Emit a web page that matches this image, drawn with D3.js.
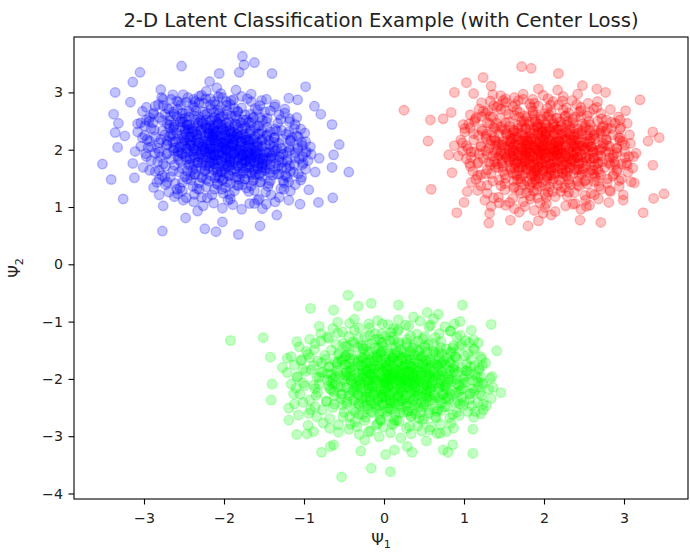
<!DOCTYPE html>
<html>
<head>
<meta charset="utf-8">
<script src="https://cdn.jsdelivr.net/npm/d3@7"></script>
<style>
  body { margin: 0; background: #fff; }
  svg { display: block; font-family: "DejaVu Sans", sans-serif; }
</style>
</head>
<body>
<div id="chart"></div>
<script>
const chartTitle = "2-D Latent Classification Example (with Center Loss)";
const xTicks = [-3, -2, -1, 0, 1, 2, 3];
const yTicks = [-4, -3, -2, -1, 0, 1, 2, 3];

// class 0 (blue) - outer points, dense core estimated
const bluePoints = [
[-1.77,3.63],[-1.75,3.48],[-1.62,3.52],[-2.53,3.46],[-3.05,3.35],[-3.14,3.18],[-3.36,3.00],[-2.06,3.33],[-1.81,3.35],[-1.40,3.33],[-2.18,3.19],[-0.98,3.10],[-2.79,3.05],[-3.17,2.83],[-3.38,2.62],[-3.32,2.46],[-3.36,2.30],[-3.24,2.24],[-3.33,2.04],[-3.52,1.75],[-3.41,1.48],[-3.26,1.14],[-3.12,1.51],[-3.14,1.76],[-2.81,1.21],[-2.76,1.02],[-2.77,0.58],[-2.48,0.81],[-2.24,0.62],[-2.10,0.57],[-1.82,0.52],[-2.02,0.74],[-1.55,0.67],[-1.34,0.86],[-1.62,1.06],[-1.19,1.12],[-1.05,1.05],[-0.82,1.08],[-0.64,1.16],[-0.94,1.30],[-0.44,1.61],[-0.65,1.69],[-0.86,1.61],[-0.81,1.85],[-0.63,1.91],[-0.56,2.09],[-0.92,2.05],[-0.65,2.44],[-0.79,2.62],[-0.87,2.76],[-1.08,2.87],[-1.19,2.90],
[-1.08,2.02],[-1.15,2.21],[-1.02,1.88],[-1.21,1.96],[-1.12,2.37],[-0.99,2.29],
[-1.18,2.49],[-1.31,2.61],[-1.24,2.71],[-1.42,2.68],[-1.36,2.79],[-1.55,2.77],[-1.47,2.88],[-1.66,2.84],[-1.29,2.53],[-1.09,2.56],
[-1.78,2.93],[-1.91,2.86],[-2.04,2.98],[-2.17,2.89],[-2.28,2.95],[-1.85,3.04],[-2.09,3.08],[-2.36,2.84],[-1.97,2.77],[-2.22,3.02],
[-2.45,2.91],[-2.57,2.83],[-2.66,2.88],[-2.71,2.72],[-2.82,2.79],[-2.88,2.64],[-2.93,2.56],[-2.51,2.96],[-2.78,2.91],[-2.99,2.41],
[-2.96,2.18],[-3.04,2.06],[-2.98,1.93],[-3.08,2.31],[-2.91,1.81],[-3.01,1.69],[-2.94,2.49],[-3.11,1.97],
[-2.86,1.62],[-2.81,1.48],[-2.73,1.39],[-2.69,1.26],[-2.59,1.31],[-2.62,1.18],[-2.77,1.55],[-2.88,1.34],[-2.51,1.12],
[-2.38,1.09],[-2.26,1.02],[-2.13,1.07],[-2.02,0.98],[-1.89,1.04],[-1.78,0.96],[-2.21,1.16],[-1.95,1.12],[-2.33,0.93],[-1.68,1.06],
[-1.56,1.14],[-1.47,1.05],[-1.41,1.21],[-1.31,1.17],[-1.25,1.31],[-1.17,1.28],[-1.36,1.09],[-1.52,0.97],[-1.11,1.39],[-1.04,1.47],
[-1.07,1.58],[-0.98,1.66],[-1.12,1.74],[-0.95,1.81],[-1.03,1.52],[-1.19,1.44],[-0.91,1.92],
[-2.31,2.93],[-1.66,2.97],[-2.02,2.91],[-2.64,2.96],
[-2.12,2.84],[-1.88,2.87],[-2.47,2.83],[-1.53,2.86],[-2.76,2.88],[-2.25,2.81],[-1.71,2.89],
[-2.04,2.74],[-2.39,2.77],[-1.61,2.72],[-2.86,2.76],[-1.92,2.79],[-2.58,2.71],[-1.37,2.75],[-2.17,2.78],[-1.78,2.73],[-2.97,2.74],
[-2.21,2.63],[-1.83,2.67],[-2.52,2.64],[-1.49,2.66],[-2.08,2.69],[-2.74,2.62],[-1.96,2.61],[-2.35,2.68],[-1.24,2.64],[-2.63,2.66],[-1.67,2.62],[-2.13,2.65],[-3.02,2.67],[-1.58,2.69],
[-2.06,2.54],[-2.44,2.57],[-1.72,2.52],[-2.81,2.56],[-1.91,2.59],[-2.29,2.51],[-1.46,2.55],[-2.59,2.58],[-2.15,2.53],[-1.63,2.57],[-2.97,2.52],[-1.84,2.55],[-2.37,2.59],[-1.18,2.54],[-2.68,2.51],[-2.01,2.58],[-1.55,2.56],[-2.22,2.52],[-2.49,2.55],
[-2.11,2.43],[-1.79,2.47],[-2.46,2.44],[-1.58,2.41],[-2.27,2.48],[-2.71,2.45],[-1.94,2.42],[-1.33,2.46],[-2.55,2.49],[-2.03,2.44],[-1.69,2.48],[-2.38,2.41],[-2.89,2.47],[-1.86,2.45],[-2.17,2.42],[-1.47,2.49],[-2.62,2.43],[-2.08,2.46],[-1.11,2.44],[-2.32,2.47],[-1.74,2.42],[-2.51,2.48],[-3.08,2.45],
[-2.14,2.34],[-1.82,2.37],[-2.49,2.32],[-1.61,2.38],[-2.29,2.35],[-2.77,2.33],[-1.97,2.39],[-1.42,2.31],[-2.41,2.36],[-2.06,2.33],[-1.73,2.38],[-2.63,2.35],[-1.28,2.34],[-2.22,2.37],[-1.89,2.31],[-2.55,2.39],[-2.01,2.36],[-1.53,2.33],[-2.36,2.32],[-2.91,2.37],[-1.67,2.35],[-2.18,2.38],[-1.04,2.36],[-2.45,2.34],[-1.93,2.33],[-2.68,2.38],[-2.11,2.31],
[-2.09,2.24],[-1.76,2.27],[-2.43,2.22],[-1.55,2.28],[-2.24,2.25],[-2.68,2.23],[-1.91,2.29],[-1.37,2.21],[-2.52,2.26],[-2.02,2.23],[-1.68,2.28],[-2.33,2.25],[-2.86,2.22],[-1.84,2.27],[-2.15,2.21],[-1.46,2.26],[-2.59,2.29],[-2.05,2.24],[-1.22,2.27],[-2.39,2.22],[-1.79,2.25],[-2.19,2.28],[-2.74,2.26],[-1.61,2.23],[-2.28,2.29],[-1.96,2.21],[-2.47,2.27],[-1.09,2.24],[-2.12,2.26],[-2.99,2.25],[-1.87,2.22],
[-2.07,2.14],[-1.73,2.17],[-2.41,2.12],[-1.52,2.18],[-2.26,2.15],[-2.64,2.13],[-1.93,2.19],[-1.31,2.11],[-2.49,2.16],[-2.01,2.13],[-1.66,2.18],[-2.35,2.15],[-2.81,2.12],[-1.85,2.17],[-2.17,2.11],[-1.44,2.16],[-2.57,2.19],[-2.04,2.14],[-1.17,2.17],[-2.31,2.12],[-1.78,2.15],[-2.21,2.18],[-2.71,2.16],[-1.59,2.13],[-2.13,2.19],[-1.97,2.11],[-2.44,2.17],[-0.98,2.14],[-2.09,2.16],[-2.93,2.15],[-1.88,2.12],[-2.53,2.14],[-1.69,2.16],
[-2.03,2.04],[-1.71,2.07],[-2.38,2.02],[-1.95,2.09],[-2.61,2.03],[-1.52,2.06],[-2.14,2.01],[-1.88,2.08],[-2.27,2.05],[-1.34,2.02],[-2.49,2.07],[-1.62,2.04],[-2.08,2.09],[-2.83,2.03],[-1.79,2.06],[-2.19,2.01],[-1.43,2.08],[-2.55,2.05],[-1.98,2.02],[-2.33,2.07],[-1.19,2.04],[-2.72,2.09],[-1.66,2.03],[-2.11,2.06],[-1.85,2.01],[-2.42,2.08],[-1.57,2.05],[-2.24,2.02],[-1.02,2.07],[-2.95,2.04],[-1.91,2.09],[-2.17,2.03],[-1.74,2.06],[-2.46,2.01],
[-1.94,1.94],[-1.62,1.97],[-2.29,1.92],[-1.81,1.98],[-2.52,1.93],[-1.43,1.96],[-2.07,1.91],[-1.77,1.99],[-2.18,1.95],[-1.26,1.92],[-2.39,1.97],[-1.55,1.94],[-1.99,1.99],[-2.71,1.93],[-1.69,1.96],[-2.11,1.91],[-1.36,1.98],[-2.46,1.95],[-1.88,1.92],[-2.24,1.97],[-1.11,1.94],[-2.63,1.99],[-1.58,1.93],[-2.02,1.96],[-1.75,1.91],[-2.34,1.98],[-1.47,1.95],[-2.15,1.92],[-0.97,1.97],[-2.86,1.94],[-1.84,1.99],[-2.57,1.96],[-1.65,1.91],
[-1.92,1.84],[-1.59,1.87],[-2.26,1.82],[-1.78,1.88],[-2.47,1.83],[-1.38,1.86],[-2.04,1.81],[-1.71,1.89],[-2.15,1.85],[-1.21,1.82],[-2.36,1.87],[-1.51,1.84],[-1.96,1.89],[-2.66,1.83],[-1.64,1.86],[-2.09,1.81],[-1.31,1.88],[-2.42,1.85],[-1.85,1.82],[-2.21,1.87],[-1.06,1.84],[-2.58,1.89],[-1.55,1.83],[-1.99,1.86],[-1.73,1.81],[-2.31,1.88],[-1.44,1.85],[-2.12,1.82],[-2.79,1.87],[-1.81,1.86],[-1.67,1.83],
[-1.89,1.74],[-1.56,1.77],[-2.23,1.72],[-1.75,1.78],[-2.44,1.73],[-1.35,1.76],[-2.01,1.71],[-1.68,1.79],[-2.12,1.75],[-1.18,1.72],[-2.33,1.77],[-1.48,1.74],[-1.93,1.79],[-2.62,1.73],[-1.61,1.76],[-2.06,1.71],[-1.27,1.78],[-2.38,1.75],[-1.82,1.72],[-2.18,1.77],[-1.02,1.74],[-2.54,1.79],[-1.52,1.73],[-1.97,1.76],[-1.71,1.71],[-2.27,1.78],[-2.76,1.75],
[-1.91,1.64],[-1.58,1.67],[-2.24,1.62],[-1.77,1.68],[-2.46,1.63],[-1.36,1.66],[-2.03,1.61],[-1.69,1.69],[-2.13,1.65],[-1.17,1.62],[-2.35,1.67],[-1.49,1.64],[-1.95,1.69],[-2.64,1.63],[-1.62,1.66],[-2.08,1.61],[-1.28,1.68],[-2.39,1.65],[-1.84,1.62],[-2.19,1.67],[-2.81,1.64],[-1.53,1.69],[-1.99,1.66],
[-1.93,1.54],[-1.61,1.57],[-2.27,1.52],[-1.79,1.58],[-2.49,1.53],[-1.39,1.56],[-2.06,1.51],[-1.72,1.59],[-2.16,1.55],[-1.21,1.52],[-2.37,1.57],[-1.52,1.54],[-1.98,1.59],[-2.67,1.53],[-1.65,1.56],[-2.11,1.51],[-1.31,1.58],[-2.42,1.55],[-1.86,1.52],
[-1.96,1.44],[-1.63,1.47],[-2.31,1.42],[-1.81,1.48],[-2.52,1.43],[-1.42,1.46],[-2.09,1.41],[-1.74,1.49],[-2.19,1.45],[-1.25,1.42],[-2.41,1.47],[-1.55,1.44],[-2.01,1.49],[-2.71,1.43],
[-1.98,1.34],[-1.66,1.37],[-2.34,1.32],[-1.84,1.38],[-2.55,1.33],[-1.45,1.36],[-2.12,1.31],[-1.77,1.39],[-2.22,1.35],[-1.29,1.32],
[-2.01,1.24],[-1.69,1.27],[-2.37,1.22],[-1.87,1.28],[-2.58,1.23],[-1.48,1.26],[-2.15,1.21],
[-1.92,1.14],[-2.28,1.17],[-1.58,1.12],[-2.47,1.16],
[-3.02,2.21],[-2.97,1.88],[-3.04,2.47],
[-2.91,2.05],[-2.88,2.62],[-2.93,1.64],[-2.87,2.34],
[-2.79,2.18],[-2.83,1.79],[-2.77,2.51],[-2.81,1.96],[-2.76,2.77],[-2.84,1.43],
[-2.71,2.09],[-2.68,2.43],[-2.73,1.71],[-2.66,2.27],[-2.72,1.92],[-2.69,2.71],[-2.74,1.52],[-2.67,2.58],
[-2.61,2.14],[-2.57,1.83],[-2.63,2.39],[-2.58,1.97],[-2.62,2.62],[-2.56,1.61],[-2.64,2.25],[-2.59,2.85],[-2.61,1.41],[-2.55,2.48],[-2.63,2.03],
[-2.51,2.21],[-2.48,1.88],[-2.53,2.54],[-2.47,2.02],[-2.52,1.67],[-2.49,2.36],[-2.54,2.78],[-2.46,1.49],[-2.51,2.11],[-2.48,2.63],[-2.53,1.94],[-2.46,2.43],[-2.52,1.28],
[-2.41,2.16],[-2.38,1.91],[-2.43,2.44],[-2.37,2.01],[-2.42,1.74],[-2.39,2.31],[-2.44,2.67],[-2.36,1.57],[-2.41,2.24],[-2.38,2.88],[-2.43,1.83],[-2.36,2.52],[-2.42,2.07],[-2.39,1.36],[-2.44,2.37],[-2.37,2.74],
[-2.31,2.12],[-2.28,1.86],[-2.33,2.41],[-2.27,1.99],[-2.32,2.58],[-2.29,1.69],[-2.34,2.27],[-2.26,2.05],[-2.31,2.82],[-2.28,1.51],[-2.33,2.19],[-2.27,2.46],[-2.32,1.78],[-2.29,2.33],[-2.34,1.94],[-2.26,2.66],[-2.31,1.31],[-2.28,2.09],
[-2.21,2.08],[-2.18,2.34],[-2.23,1.87],[-2.17,2.51],[-2.22,1.96],[-2.19,2.22],[-2.24,1.64],[-2.16,2.71],[-2.21,2.14],[-2.18,1.79],[-2.23,2.43],[-2.17,2.02],[-2.22,1.48],[-2.19,2.29],[-2.24,2.61],[-2.16,1.91],[-2.21,2.38],[-2.18,1.71],[-2.23,2.89],[-2.17,2.17],
[-2.11,2.11],[-2.08,1.83],[-2.13,2.37],[-2.07,1.97],[-2.12,2.56],[-2.09,1.68],[-2.14,2.24],[-2.06,2.04],[-2.11,2.79],[-2.08,1.55],[-2.13,2.17],[-2.07,2.45],[-2.12,1.89],[-2.09,2.31],[-2.14,1.76],[-2.06,2.63],[-2.11,2.01],[-2.08,1.39],[-2.13,2.28],[-2.07,2.92],[-2.12,1.93],[-2.09,2.49],
[-2.01,2.06],[-1.98,2.31],[-2.03,1.79],[-1.97,2.47],[-2.02,1.94],[-1.99,2.19],[-2.04,1.62],[-1.96,2.68],[-2.01,2.12],[-1.98,1.86],[-2.03,2.39],[-1.97,1.99],[-2.02,1.47],[-1.99,2.26],[-2.04,2.57],[-1.96,1.72],[-2.01,2.34],[-1.98,2.01],[-2.03,1.31],[-1.97,2.84],[-2.02,1.89],[-1.99,2.15],
[-1.91,1.98],[-1.88,2.24],[-1.93,1.73],[-1.87,2.41],[-1.92,1.87],[-1.89,2.12],[-1.94,1.56],[-1.86,2.59],[-1.91,2.05],[-1.88,1.79],[-1.93,2.31],[-1.87,1.92],[-1.92,1.41],[-1.89,2.18],[-1.94,2.49],[-1.86,1.66],[-1.91,2.27],[-1.88,1.95],[-1.93,1.22],[-1.87,2.72],[-1.92,1.82],[-1.89,2.08],
[-1.81,1.94],[-1.78,2.19],[-1.83,1.71],[-1.77,2.36],[-1.82,1.83],[-1.79,2.07],[-1.84,1.53],[-1.76,2.52],[-1.81,2.01],[-1.78,1.76],[-1.83,2.27],[-1.77,1.89],[-1.82,1.37],[-1.79,2.13],[-1.84,2.44],[-1.76,1.62],[-1.81,2.23],[-1.78,1.91],[-1.83,2.66],[-1.77,1.81],
[-1.71,1.91],[-1.68,2.14],[-1.73,1.68],[-1.67,2.31],[-1.72,1.81],[-1.69,2.03],[-1.74,1.49],[-1.66,2.47],[-1.71,1.97],[-1.68,1.74],[-1.73,2.22],[-1.67,1.86],[-1.72,1.33],[-1.69,2.09],[-1.74,2.61],[-1.66,1.59],[-1.71,2.18],[-1.68,1.93],
[-1.61,1.88],[-1.58,2.11],[-1.63,1.64],[-1.57,2.28],[-1.62,1.78],[-1.59,1.99],[-1.64,1.46],[-1.56,2.42],[-1.61,1.94],[-1.58,1.71],[-1.63,2.19],[-1.57,1.83],[-1.62,1.29],[-1.59,2.06],[-1.64,2.55],[-1.56,1.57],
[-1.51,1.86],[-1.48,2.08],[-1.53,1.61],[-1.47,2.24],[-1.52,1.76],[-1.49,1.97],[-1.54,1.43],[-1.46,2.39],[-1.51,1.91],[-1.48,1.68],[-1.53,2.16],[-1.47,1.81],[-1.52,2.51],
[-1.41,1.84],[-1.38,2.05],[-1.43,1.59],[-1.37,2.21],[-1.42,1.74],[-1.39,1.95],[-1.44,1.41],[-1.36,2.36],[-1.41,1.89],[-1.38,2.13],[-1.43,1.66],
[-1.31,1.82],[-1.28,2.02],[-1.33,1.57],[-1.27,2.18],[-1.32,1.71],[-1.29,1.93],[-1.34,2.33],[-1.26,1.46],
[-1.21,1.79],[-1.18,1.99],[-1.23,1.55],[-1.17,2.15],[-1.22,1.68],[-1.19,2.31],
[-1.11,1.86],[-1.08,2.04],[-1.13,1.61],[-1.07,2.22],
[-1.01,1.77],[-0.98,1.95],[-1.03,2.13]
];

// class 1 (red)
const redPoints = [
[0.25,2.69],[0.58,2.52],[0.55,2.15],[0.59,1.31],[0.74,2.54],[0.84,2.65],[0.81,1.91],[0.91,0.90],[1.00,1.08],[0.88,3.00],[1.03,3.17],[1.24,3.26],[1.34,3.11],[1.72,3.45],[1.84,3.42],[2.18,3.33],[2.48,3.12],[2.66,3.06],[2.77,3.00],[3.20,2.87],[3.02,2.68],[2.95,2.52],[3.36,2.31],[3.44,2.21],[3.30,2.15],[3.15,1.94],[3.36,1.73],[3.13,1.42],[3.50,1.23],[3.37,1.15],[3.24,0.90],[2.99,1.12],[2.81,1.08],[2.71,0.73],[2.45,0.77],[2.53,1.01],[1.80,0.67],[1.93,0.76],[1.99,0.89],[1.58,0.77],[1.31,0.72],[1.32,0.89],[1.04,1.27],[0.85,1.60],[1.12,2.98],
[2.91,2.02],[3.01,1.86],[2.95,2.21],[3.08,2.11],[2.89,1.74],[3.05,1.61],
[2.84,2.37],[2.78,2.52],[2.71,2.63],[2.62,2.71],[2.89,2.46],[2.55,2.81],[2.46,2.74],[2.67,2.84],[2.96,2.39],[2.74,2.41],
[2.35,2.86],[2.24,2.93],[2.11,2.84],[1.99,2.95],[1.86,2.88],[1.74,2.97],[2.17,3.04],[1.93,3.06],[2.42,2.97],[1.63,2.91],
[1.52,2.82],[1.41,2.74],[1.33,2.85],[1.27,2.64],[1.19,2.71],[1.14,2.53],[1.46,2.94],[1.22,2.82],[1.08,2.61],[1.36,2.96],
[1.01,2.31],[0.96,2.17],[1.05,2.02],[0.93,1.89],[1.07,1.76],[0.99,2.44],[0.88,2.07],[1.11,1.62],
[1.15,1.48],[1.21,1.37],[1.29,1.24],[1.37,1.16],[1.09,1.43],[1.26,1.12],[1.44,1.07],[1.17,1.29],[1.34,1.01],
[1.52,1.03],[1.63,0.97],[1.76,1.01],[1.88,0.94],[2.01,0.99],[2.14,0.92],[2.27,1.02],[1.95,1.07],[2.09,0.86],[1.69,0.91],
[2.39,1.06],[2.52,1.12],[2.63,1.21],[2.71,1.31],[2.79,1.42],[2.86,1.54],[2.57,1.03],[2.46,0.96],[2.94,1.36],[2.68,1.14],
[2.97,1.49],[3.04,1.73],[2.91,1.63],[3.12,1.88],[2.83,1.27],[2.99,1.21],[3.09,1.44],
[1.74,2.88],[2.23,2.85],[1.49,2.86],[2.05,2.89],
[1.93,2.76],[2.41,2.79],[1.61,2.75],[2.18,2.78],[1.37,2.77],[2.66,2.74],[1.82,2.80],
[2.09,2.66],[1.52,2.69],[2.57,2.65],[1.86,2.68],[2.31,2.64],[1.24,2.67],[2.83,2.70],[1.70,2.65],[2.01,2.63],[2.46,2.68],
[1.78,2.56],[2.27,2.59],[1.45,2.55],[2.04,2.58],[2.72,2.54],[1.63,2.60],[2.39,2.57],[1.15,2.56],[1.96,2.53],[2.54,2.59],[1.33,2.58],[2.16,2.55],[2.93,2.57],[1.88,2.60],
[2.12,2.46],[1.57,2.49],[2.48,2.45],[1.81,2.48],[2.29,2.44],[1.29,2.47],[2.67,2.50],[1.94,2.45],[1.68,2.43],[2.21,2.49],[1.41,2.46],[2.84,2.48],[2.03,2.44],[1.75,2.50],[2.36,2.47],[1.06,2.45],[2.58,2.43],[1.89,2.49],[3.04,2.46],
[1.83,2.36],[2.24,2.39],[1.51,2.35],[2.06,2.38],[2.63,2.34],[1.72,2.40],[2.42,2.37],[1.22,2.36],[1.98,2.33],[2.51,2.39],[1.39,2.38],[2.15,2.35],[2.79,2.37],[1.62,2.34],[1.91,2.40],[2.33,2.36],[1.08,2.38],[2.71,2.33],[1.77,2.37],[2.19,2.35],[1.46,2.40],[2.95,2.36],[2.01,2.38],
[2.07,2.26],[1.66,2.29],[2.38,2.25],[1.87,2.28],[2.55,2.24],[1.35,2.30],[2.21,2.27],[1.74,2.25],[2.01,2.23],[2.69,2.29],[1.53,2.26],[2.31,2.28],[1.93,2.30],[1.18,2.25],[2.47,2.27],[1.81,2.23],[2.12,2.29],[2.86,2.26],[1.44,2.28],[2.26,2.24],[1.61,2.30],[2.02,2.27],[2.62,2.25],[1.96,2.29],[1.27,2.23],[2.41,2.28],[3.07,2.26],
[1.89,2.16],[2.28,2.19],[1.58,2.15],[2.11,2.18],[2.51,2.14],[1.76,2.20],[2.36,2.17],[1.39,2.16],[2.03,2.13],[2.64,2.19],[1.67,2.18],[2.19,2.15],[1.95,2.20],[1.12,2.17],[2.45,2.13],[1.84,2.19],[2.07,2.16],[2.78,2.18],[1.49,2.14],[2.24,2.20],[1.71,2.16],[1.99,2.18],[2.57,2.15],[1.28,2.19],[2.33,2.17],[1.91,2.13],[2.95,2.16],[1.62,2.20],[2.15,2.14],[2.42,2.18],[1.80,2.15],
[2.04,2.06],[1.63,2.09],[2.35,2.05],[1.85,2.08],[2.53,2.04],[1.42,2.10],[2.17,2.07],[1.72,2.05],[1.97,2.03],[2.66,2.09],[1.55,2.06],[2.27,2.08],[1.91,2.10],[1.21,2.05],[2.44,2.07],[1.79,2.03],[2.09,2.09],[2.82,2.06],[1.48,2.08],[2.22,2.04],[1.67,2.10],[2.01,2.07],[2.59,2.05],[1.33,2.09],[2.38,2.06],[1.88,2.04],[3.01,2.08],[1.59,2.03],[2.13,2.10],[2.48,2.06],[1.76,2.08],[1.03,2.07],[2.73,2.04],
[1.95,1.96],[2.31,1.99],[1.61,1.95],[2.14,1.98],[1.82,1.94],[2.49,2.00],[1.46,1.97],[2.06,1.95],[1.73,1.99],[2.62,1.96],[1.27,1.98],[2.23,1.94],[1.89,2.00],[2.41,1.96],[1.56,1.99],[2.01,1.93],[2.77,1.97],[1.68,1.95],[2.18,1.99],[1.13,1.96],[2.55,1.98],[1.84,1.94],[2.09,2.00],[1.39,1.95],[2.36,1.97],[1.99,1.99],[2.91,1.95],[1.64,1.98],[2.27,1.94],[1.78,1.96],[2.69,1.99],[1.51,1.93],[2.12,1.97],[0.98,1.98],
[2.02,1.86],[1.67,1.89],[2.38,1.85],[1.86,1.88],[2.57,1.84],[1.44,1.90],[2.19,1.87],[1.75,1.85],[1.96,1.83],[2.71,1.89],[1.53,1.86],[2.29,1.88],[1.92,1.90],[1.24,1.85],[2.46,1.87],[1.81,1.83],[2.11,1.89],[2.86,1.86],[1.59,1.88],[2.25,1.84],[1.70,1.90],[2.05,1.87],[2.63,1.85],[1.36,1.89],[2.41,1.86],[1.90,1.84],[3.06,1.88],[1.62,1.83],[2.15,1.90],[2.52,1.86],[1.79,1.88],[1.09,1.87],[2.34,1.83],
[1.98,1.76],[2.34,1.79],[1.64,1.75],[2.16,1.78],[1.83,1.74],[2.53,1.80],[1.47,1.77],[2.08,1.75],[1.76,1.79],[2.67,1.76],[1.31,1.78],[2.25,1.74],[1.93,1.80],[2.44,1.76],[1.57,1.79],[2.03,1.73],[2.81,1.77],[1.71,1.75],[2.21,1.79],[1.17,1.76],[2.59,1.78],[1.87,1.74],[2.12,1.80],[1.41,1.75],[2.39,1.77],[2.01,1.79],[2.97,1.75],[1.66,1.78],[2.29,1.74],[1.81,1.76],[2.73,1.79],
[2.06,1.66],[1.69,1.69],[2.41,1.65],[1.88,1.68],[2.61,1.64],[1.49,1.70],[2.22,1.67],[1.78,1.65],[1.99,1.63],[2.76,1.69],[1.58,1.66],[2.32,1.68],[1.94,1.70],[1.29,1.65],[2.49,1.67],[1.84,1.63],[2.14,1.69],[2.92,1.66],[1.63,1.68],[2.27,1.64],[1.73,1.70],[2.09,1.67],[2.67,1.65],[1.39,1.69],[2.44,1.66],[1.91,1.64],[3.11,1.68],
[1.96,1.56],[2.37,1.59],[1.66,1.55],[2.13,1.58],[1.85,1.54],[2.56,1.60],[1.51,1.57],[2.09,1.55],[1.77,1.59],[2.71,1.56],[1.34,1.58],[2.28,1.54],[1.92,1.60],[2.47,1.56],[1.61,1.59],[2.04,1.53],[2.87,1.57],[1.73,1.55],[2.23,1.59],[1.21,1.56],[2.62,1.58],[1.89,1.54],[2.17,1.60],
[2.03,1.46],[1.71,1.49],[2.42,1.45],[1.89,1.48],[2.63,1.44],[1.52,1.50],[2.19,1.47],[1.79,1.45],[1.98,1.43],[2.79,1.49],[1.62,1.46],[2.31,1.48],[1.93,1.50],[1.36,1.45],[2.52,1.47],[1.85,1.43],[2.12,1.49],[2.94,1.46],[1.67,1.48],
[1.94,1.36],[2.33,1.39],[1.63,1.35],[2.17,1.38],[1.82,1.34],[2.54,1.40],[1.46,1.37],[2.07,1.35],[1.75,1.39],[2.69,1.36],[1.29,1.38],[2.26,1.34],[1.91,1.40],[2.44,1.36],
[2.05,1.26],[1.69,1.29],[2.38,1.25],[1.87,1.28],[2.59,1.24],[1.51,1.30],[2.21,1.27],[1.78,1.25],[2.01,1.23],[2.82,1.29],
[1.92,1.16],[2.29,1.19],[1.61,1.15],[2.14,1.18],[1.83,1.14],[2.51,1.20],[1.43,1.17],
[2.03,1.06],[1.74,1.09],[2.36,1.05],[1.57,1.08],
[0.98,2.12],[1.03,1.84],[1.01,2.37],
[1.09,1.96],[1.12,2.28],[1.08,1.71],[1.13,2.49],
[1.21,2.07],[1.18,1.78],[1.23,2.33],[1.19,1.93],[1.22,2.58],[1.17,1.55],
[1.31,2.02],[1.28,2.27],[1.33,1.74],[1.29,1.91],[1.32,2.46],[1.27,1.58],[1.34,2.16],[1.30,2.68],
[1.41,1.98],[1.38,2.21],[1.43,1.69],[1.37,2.39],[1.42,1.86],[1.39,2.07],[1.44,1.47],[1.36,2.57],[1.41,2.14],[1.38,1.79],[1.43,2.77],
[1.51,2.04],[1.48,1.81],[1.53,2.29],[1.47,1.93],[1.52,2.47],[1.49,1.62],[1.54,2.16],[1.46,2.71],[1.51,1.41],[1.48,2.36],[1.53,1.87],[1.47,2.09],[1.52,2.89],
[1.61,1.99],[1.58,2.24],[1.63,1.77],[1.57,2.41],[1.62,1.88],[1.59,2.13],[1.64,1.58],[1.56,2.62],[1.61,2.05],[1.58,1.69],[1.63,2.33],[1.57,1.94],[1.62,1.33],[1.59,2.19],[1.64,2.79],[1.56,1.83],
[1.71,2.03],[1.68,1.79],[1.73,2.28],[1.67,1.91],[1.72,2.49],[1.69,1.63],[1.74,2.15],[1.66,2.69],[1.71,1.44],[1.68,2.37],[1.73,1.86],[1.67,2.08],[1.72,1.71],[1.69,2.57],[1.74,1.97],[1.66,2.22],[1.71,1.24],[1.68,2.86],
[1.81,1.96],[1.78,2.21],[1.83,1.72],[1.77,2.38],[1.82,1.85],[1.79,2.11],[1.84,1.56],[1.76,2.59],[1.81,2.02],[1.78,1.67],[1.83,2.29],[1.77,1.91],[1.82,1.38],[1.79,2.16],[1.84,2.74],[1.76,1.79],[1.81,2.44],[1.78,2.06],[1.83,1.19],[1.77,1.99],
[1.91,2.01],[1.88,1.77],[1.93,2.26],[1.87,1.89],[1.92,2.43],[1.89,1.64],[1.94,2.13],[1.86,2.63],[1.91,1.47],[1.88,2.34],[1.93,1.83],[1.87,2.07],[1.92,1.69],[1.89,2.52],[1.94,1.94],[1.86,2.19],[1.91,1.29],[1.88,2.81],[1.93,1.98],[1.87,1.58],[1.92,2.38],[1.89,2.04],
[2.01,1.95],[1.98,2.22],[2.03,1.71],[1.97,2.39],[2.02,1.84],[1.99,2.09],[2.04,1.54],[1.96,2.58],[2.01,2.01],[1.98,1.66],[2.03,2.31],[1.97,1.91],[2.02,1.36],[1.99,2.15],[2.04,2.72],[1.96,1.78],[2.01,2.45],[1.98,2.05],[2.03,1.17],[1.97,1.98],[2.02,2.27],[1.99,1.62],
[2.11,2.02],[2.08,1.76],[2.13,2.27],[2.07,1.88],[2.12,2.44],[2.09,1.63],[2.14,2.12],[2.06,2.61],[2.11,1.45],[2.08,2.35],[2.13,1.82],[2.07,2.06],[2.12,1.69],[2.09,2.53],[2.14,1.95],[2.06,2.18],[2.11,1.27],[2.08,2.78],[2.13,1.99],[2.07,1.56],[2.12,2.39],[2.09,1.92],
[2.21,1.94],[2.18,2.19],[2.23,1.73],[2.17,2.36],[2.22,1.86],[2.19,2.08],[2.24,1.52],[2.16,2.55],[2.21,2.01],[2.18,1.67],[2.23,2.28],[2.17,1.92],[2.22,1.34],[2.19,2.14],[2.24,2.69],[2.16,1.79],[2.21,2.42],[2.18,2.03],[2.23,1.59],[2.17,1.97],
[2.31,2.01],[2.28,1.78],[2.33,2.24],[2.27,1.89],[2.32,2.41],[2.29,1.61],[2.34,2.11],[2.26,2.58],[2.31,1.43],[2.28,2.31],[2.33,1.83],[2.27,2.06],[2.32,1.69],[2.29,2.49],[2.34,1.95],[2.26,2.17],[2.31,1.26],[2.28,2.73],
[2.41,1.97],[2.38,2.21],[2.43,1.74],[2.37,2.37],[2.42,1.87],[2.39,2.09],[2.44,1.55],[2.36,2.54],[2.41,2.03],[2.38,1.66],[2.43,2.29],[2.37,1.92],[2.42,1.38],[2.39,2.15],[2.44,2.66],[2.36,1.81],
[2.51,2.02],[2.48,1.79],[2.53,2.25],[2.47,1.91],[2.52,2.42],[2.49,1.62],[2.54,2.12],[2.46,2.57],[2.51,1.45],[2.48,2.33],[2.53,1.86],[2.47,2.07],[2.52,1.71],
[2.61,1.96],[2.58,2.19],[2.63,1.72],[2.57,2.34],[2.62,1.85],[2.59,2.06],[2.64,1.53],[2.56,2.49],[2.61,2.01],[2.58,1.64],[2.63,2.27],
[2.71,2.01],[2.68,1.78],[2.73,2.22],[2.67,1.89],[2.72,2.39],[2.69,1.61],[2.74,2.11],[2.66,1.46],
[2.81,1.95],[2.78,2.17],[2.83,1.74],[2.77,2.32],[2.82,1.86],[2.79,2.07],
[2.91,2.03],[2.88,1.79],[2.93,2.21],[2.87,1.91],
[3.01,1.97],[2.98,2.14],[3.03,1.77]
];

// class 2 (green)
const greenPoints = [
[-1.92,-1.33],[-1.51,-1.28],[-1.42,-1.62],[-1.40,-2.09],[-1.41,-2.37],[-1.19,-2.72],[-1.09,-2.97],[-0.96,-2.96],[-0.78,-3.28],[-0.67,-3.18],[-0.53,-3.71],[-0.16,-3.56],[0.08,-3.62],[-0.29,-3.26],[0.02,-3.32],[0.13,-3.24],[0.35,-3.28],[0.74,-3.24],[0.80,-3.28],[1.11,-3.30],[1.11,-2.88],[1.24,-2.54],[1.24,-2.44],[1.46,-2.24],[1.35,-1.96],[1.24,-2.09],[1.41,-1.51],[1.34,-1.05],[1.09,-1.15],[0.98,-0.71],[0.95,-1.00],[0.68,-0.87],[0.54,-0.84],[0.18,-0.71],[-0.16,-0.68],[-0.45,-0.54],[-0.32,-0.73],[-0.63,-0.80],[-0.92,-0.77],[-0.81,-1.08],[-1.09,-1.35],[-1.21,-1.64],[-1.27,-1.80],[-1.19,-2.51],[-0.94,-2.60],[-0.63,-3.15],[0.70,-2.95],[0.86,-3.15],[0.53,-3.08],[0.29,-3.18],[1.21,-1.61],[1.12,-1.32],
[1.14,-1.93],[1.23,-2.07],[1.19,-1.81],[1.31,-2.18],[1.08,-2.26],[1.27,-1.72],
[1.05,-1.56],[0.97,-1.41],[0.91,-1.27],[0.83,-1.16],[1.13,-1.49],[0.76,-1.09],[0.69,-1.21],[1.02,-1.33],[0.88,-1.04],[1.18,-1.37],
[0.58,-1.06],[0.45,-0.99],[0.31,-1.08],[0.18,-0.97],[0.05,-1.05],[-0.08,-0.98],[0.37,-0.92],[0.12,-1.12],[-0.19,-1.04],[0.62,-0.95],
[-0.31,-1.11],[-0.43,-1.03],[-0.52,-1.18],[-0.64,-1.12],[-0.71,-1.27],[-0.79,-1.21],[-0.58,-1.01],[-0.86,-1.38],[-0.93,-1.31],[-0.37,-0.96],
[-0.97,-1.52],[-1.04,-1.68],[-1.01,-1.83],[-1.09,-1.97],[-0.99,-2.12],[-1.13,-2.26],[-1.06,-1.44],[-1.16,-1.61],
[-1.01,-2.41],[-0.92,-2.54],[-0.84,-2.66],[-0.76,-2.77],[-1.07,-2.63],[-0.95,-2.81],[-0.68,-2.86],[-1.12,-2.44],[-0.88,-2.92],
[-0.57,-2.93],[-0.44,-2.88],[-0.31,-2.97],[-0.19,-2.92],[-0.06,-3.01],[0.08,-2.94],[0.21,-3.03],[0.34,-2.96],[-0.24,-3.07],[0.47,-2.91],
[0.59,-2.84],[0.71,-2.79],[0.82,-2.68],[0.91,-2.58],[0.99,-2.47],[1.07,-2.36],[0.66,-2.95],[0.87,-2.86],[1.14,-2.57],[0.78,-2.92],
[1.17,-2.41],[1.22,-2.29],[1.28,-2.47],[1.12,-2.67],[1.34,-2.34],[1.21,-2.61],[1.36,-2.15],
[0.27,-1.06],[-0.18,-1.11],[0.56,-1.09],[-0.02,-1.04],
[0.09,-1.19],[-0.37,-1.15],[0.41,-1.22],[0.83,-1.17],[-0.58,-1.20],[0.18,-1.14],[-0.11,-1.21],
[0.33,-1.25],[-0.06,-1.31],[0.64,-1.28],[-0.44,-1.26],[0.12,-1.32],[-0.69,-1.29],[0.95,-1.24],[0.49,-1.30],[-0.24,-1.27],[0.02,-1.25],
[-0.03,-1.36],[0.38,-1.41],[-0.51,-1.38],[0.71,-1.35],[0.19,-1.39],[-0.28,-1.42],[1.06,-1.37],[-0.79,-1.34],[0.55,-1.40],[0.07,-1.33],[-0.15,-1.39],[0.87,-1.42],[-0.39,-1.35],[0.28,-1.37],
[0.21,-1.49],[-0.33,-1.45],[0.62,-1.52],[-0.07,-1.47],[0.94,-1.44],[-0.66,-1.50],[0.36,-1.46],[0.04,-1.51],[-0.48,-1.43],[0.78,-1.48],[-0.19,-1.52],[1.12,-1.47],[0.15,-1.44],[-0.87,-1.49],[0.51,-1.45],[-0.26,-1.48],[0.69,-1.53],[-0.02,-1.43],[0.42,-1.50],
[0.06,-1.56],[0.47,-1.61],[-0.41,-1.58],[0.83,-1.55],[-0.14,-1.62],[0.29,-1.54],[-0.74,-1.59],[0.61,-1.57],[-0.03,-1.53],[1.01,-1.60],[-0.56,-1.55],[0.18,-1.59],[-0.27,-1.63],[0.72,-1.56],[0.37,-1.58],[-0.95,-1.57],[0.11,-1.62],[0.54,-1.53],[-0.19,-1.57],[0.89,-1.61],[-0.48,-1.60],[0.25,-1.55],[-0.09,-1.59],
[0.17,-1.69],[-0.26,-1.65],[0.58,-1.71],[-0.04,-1.67],[0.91,-1.64],[-0.61,-1.70],[0.33,-1.66],[0.02,-1.72],[-0.43,-1.64],[0.75,-1.68],[-0.17,-1.71],[1.09,-1.66],[0.12,-1.64],[-0.83,-1.69],[0.46,-1.65],[-0.31,-1.68],[0.66,-1.73],[-0.08,-1.63],[0.39,-1.70],[-1.03,-1.67],[0.24,-1.63],[0.81,-1.71],[-0.52,-1.66],[0.07,-1.69],[-0.21,-1.72],[0.53,-1.68],[1.22,-1.65],
[0.03,-1.76],[0.41,-1.81],[-0.36,-1.78],[0.77,-1.75],[-0.12,-1.82],[0.26,-1.74],[-0.68,-1.79],[0.59,-1.77],[0.09,-1.73],[0.97,-1.80],[-0.49,-1.75],[0.21,-1.79],[-0.23,-1.83],[0.67,-1.76],[0.34,-1.78],[-0.88,-1.77],[0.14,-1.82],[0.49,-1.73],[-0.16,-1.77],[0.86,-1.81],[-0.42,-1.80],[0.29,-1.75],[-0.05,-1.79],[1.13,-1.77],[-0.59,-1.74],[0.52,-1.80],[-1.12,-1.76],[0.01,-1.81],[0.71,-1.74],[-0.29,-1.76],[0.38,-1.83],
[0.19,-1.89],[-0.21,-1.85],[0.55,-1.91],[-0.01,-1.87],[0.88,-1.84],[-0.58,-1.90],[0.31,-1.86],[0.06,-1.92],[-0.39,-1.84],[0.73,-1.88],[-0.14,-1.91],[1.04,-1.86],[0.16,-1.84],[-0.79,-1.89],[0.44,-1.85],[-0.27,-1.88],[0.63,-1.93],[-0.06,-1.83],[0.36,-1.90],[-0.98,-1.87],[0.23,-1.83],[0.79,-1.91],[-0.47,-1.86],[0.11,-1.89],[-0.18,-1.92],[0.51,-1.88],[1.19,-1.85],[-0.66,-1.92],[0.27,-1.87],[-0.34,-1.90],[0.93,-1.88],[0.04,-1.85],[-1.21,-1.89],
[0.08,-1.96],[0.43,-2.01],[-0.33,-1.98],[0.74,-1.95],[-0.09,-2.02],[0.28,-1.94],[-0.64,-1.99],[0.57,-1.97],[0.13,-1.93],[0.99,-2.00],[-0.46,-1.95],[0.22,-1.99],[-0.19,-2.03],[0.65,-1.96],[0.35,-1.98],[-0.84,-1.97],[0.17,-2.02],[0.47,-1.93],[-0.13,-1.97],[0.84,-2.01],[-0.38,-2.00],[0.31,-1.95],[-0.02,-1.99],[1.16,-1.97],[-0.55,-1.94],[0.53,-2.00],[-1.08,-1.96],[0.04,-2.01],[0.69,-1.94],[-0.26,-1.96],[0.39,-2.03],[1.33,-1.99],[-0.71,-2.02],[0.11,-1.98],
[0.15,-2.09],[-0.24,-2.05],[0.53,-2.11],[-0.03,-2.07],[0.86,-2.04],[-0.61,-2.10],[0.32,-2.06],[0.05,-2.12],[-0.41,-2.04],[0.71,-2.08],[-0.16,-2.11],[1.03,-2.06],[0.19,-2.04],[-0.81,-2.09],[0.45,-2.05],[-0.29,-2.08],[0.61,-2.13],[-0.07,-2.03],[0.37,-2.10],[-1.01,-2.07],[0.25,-2.03],[0.77,-2.11],[-0.49,-2.06],[0.09,-2.09],[-0.20,-2.12],[0.49,-2.08],[1.17,-2.05],[-0.69,-2.12],[0.28,-2.07],[-0.35,-2.10],[0.91,-2.08],[0.02,-2.05],[-1.16,-2.09],
[0.05,-2.16],[0.42,-2.21],[-0.34,-2.18],[0.76,-2.15],[-0.11,-2.22],[0.27,-2.14],[-0.66,-2.19],[0.58,-2.17],[0.10,-2.13],[0.96,-2.20],[-0.47,-2.15],[0.20,-2.19],[-0.22,-2.23],[0.68,-2.16],[0.33,-2.18],[-0.86,-2.17],[0.13,-2.22],[0.50,-2.13],[-0.15,-2.17],[0.85,-2.21],[-0.40,-2.20],[0.30,-2.15],[-0.04,-2.19],[1.11,-2.17],[-0.57,-2.14],[0.54,-2.20],[-1.10,-2.16],[0.00,-2.21],[0.70,-2.14],[-0.28,-2.16],[0.39,-2.23],
[0.18,-2.29],[-0.27,-2.25],[0.56,-2.31],[-0.05,-2.27],[0.90,-2.24],[-0.62,-2.30],[0.34,-2.26],[0.01,-2.32],[-0.44,-2.24],[0.74,-2.28],[-0.18,-2.31],[1.07,-2.26],[0.11,-2.24],[-0.85,-2.29],[0.47,-2.25],[-0.32,-2.28],[0.64,-2.33],[-0.09,-2.23],[0.40,-2.30],[-1.05,-2.27],[0.23,-2.23],[0.80,-2.31],[-0.53,-2.26],[0.06,-2.29],[-0.22,-2.32],[0.52,-2.28],[1.20,-2.25],
[0.07,-2.36],[0.46,-2.41],[-0.39,-2.38],[0.81,-2.35],[-0.13,-2.42],[0.27,-2.34],[-0.72,-2.39],[0.60,-2.37],[-0.02,-2.33],[1.00,-2.40],[-0.54,-2.35],[0.19,-2.39],[-0.26,-2.43],[0.70,-2.36],[0.36,-2.38],[-0.93,-2.37],[0.12,-2.42],[0.53,-2.33],[-0.17,-2.37],[0.88,-2.41],[-0.46,-2.40],[0.24,-2.35],[-0.08,-2.39],
[0.22,-2.49],[-0.31,-2.45],[0.63,-2.52],[-0.06,-2.47],[0.95,-2.44],[-0.64,-2.50],[0.37,-2.46],[0.05,-2.51],[-0.47,-2.43],[0.79,-2.48],[-0.20,-2.52],[1.10,-2.47],[0.14,-2.44],[-0.86,-2.49],[0.50,-2.45],[-0.25,-2.48],[0.68,-2.53],[-0.01,-2.43],[0.43,-2.50],
[-0.02,-2.56],[0.39,-2.61],[-0.50,-2.58],[0.72,-2.55],[0.20,-2.59],[-0.27,-2.62],[1.05,-2.57],[-0.77,-2.54],[0.56,-2.60],[0.08,-2.53],[-0.14,-2.59],[0.86,-2.62],[-0.38,-2.55],[0.29,-2.57],
[0.34,-2.65],[-0.05,-2.71],[0.65,-2.68],[-0.43,-2.66],[0.13,-2.72],[-0.68,-2.69],[0.94,-2.64],[0.50,-2.70],[-0.23,-2.67],[0.03,-2.65],
[0.10,-2.79],[-0.36,-2.75],[0.42,-2.82],[0.84,-2.77],[-0.57,-2.80],[0.19,-2.74],[-0.10,-2.81],
[0.28,-2.86],[-0.17,-2.91],[0.57,-2.89],[-0.01,-2.84],
[-0.91,-1.84],[-0.88,-2.11],[-0.93,-1.63],
[-0.81,-1.97],[-0.78,-1.72],[-0.83,-2.24],[-0.77,-1.88],
[-0.71,-1.91],[-0.68,-2.17],[-0.73,-1.66],[-0.67,-2.03],[-0.72,-2.39],[-0.69,-1.79],
[-0.61,-1.96],[-0.58,-1.71],[-0.63,-2.22],[-0.59,-1.86],[-0.62,-2.44],[-0.57,-1.57],[-0.64,-2.08],[-0.60,-1.39],
[-0.51,-2.01],[-0.48,-1.76],[-0.53,-2.27],[-0.47,-1.89],[-0.52,-2.46],[-0.49,-1.61],[-0.54,-2.13],[-0.46,-1.43],[-0.51,-2.66],[-0.48,-1.94],[-0.53,-1.69],
[-0.41,-1.95],[-0.38,-2.21],[-0.43,-1.73],[-0.37,-2.37],[-0.42,-1.86],[-0.39,-2.09],[-0.44,-1.54],[-0.36,-2.58],[-0.41,-2.02],[-0.38,-1.67],[-0.43,-2.29],[-0.37,-1.38],[-0.42,-2.79],
[-0.31,-2.03],[-0.28,-1.78],[-0.33,-2.26],[-0.27,-1.91],[-0.32,-2.43],[-0.29,-1.62],[-0.34,-2.14],[-0.26,-1.46],[-0.31,-2.62],[-0.28,-1.97],[-0.33,-1.71],[-0.27,-2.34],[-0.32,-1.29],[-0.29,-2.08],[-0.34,-2.83],[-0.26,-1.84],
[-0.21,-1.98],[-0.18,-2.23],[-0.23,-1.74],[-0.17,-2.39],[-0.22,-1.87],[-0.19,-2.11],[-0.24,-1.58],[-0.16,-2.57],[-0.21,-2.04],[-0.18,-1.68],[-0.23,-2.31],[-0.17,-1.92],[-0.22,-1.41],[-0.19,-2.16],[-0.24,-2.73],[-0.16,-1.81],[-0.21,-2.47],[-0.18,-1.24],
[-0.11,-2.02],[-0.08,-1.77],[-0.13,-2.27],[-0.07,-1.89],[-0.12,-2.44],[-0.09,-1.63],[-0.14,-2.13],[-0.06,-2.61],[-0.11,-1.46],[-0.08,-2.35],[-0.13,-1.83],[-0.07,-2.07],[-0.12,-1.69],[-0.09,-2.52],[-0.14,-1.95],[-0.06,-2.19],[-0.11,-1.31],[-0.08,-2.78],[-0.13,-1.99],[-0.07,-1.56],
[-0.01,-1.96],[0.02,-2.21],[-0.03,-1.73],[0.03,-2.38],[-0.02,-1.85],[0.01,-2.09],[-0.04,-1.54],[0.04,-2.57],[-0.01,-2.02],[0.02,-1.66],[-0.03,-2.31],[0.03,-1.91],[-0.02,-1.37],[0.01,-2.15],[-0.04,-2.72],[0.04,-1.79],[-0.01,-2.45],[0.02,-2.05],[-0.03,-1.21],[0.03,-1.98],[-0.02,-2.27],[0.01,-1.61],
[0.09,-2.01],[0.12,-1.76],[0.07,-2.26],[0.13,-1.88],[0.08,-2.43],[0.11,-1.63],[0.06,-2.12],[0.14,-2.61],[0.09,-1.45],[0.12,-2.34],[0.07,-1.82],[0.13,-2.06],[0.08,-1.69],[0.11,-2.53],[0.06,-1.94],[0.14,-2.18],[0.09,-1.27],[0.12,-2.79],[0.07,-1.99],[0.13,-1.56],[0.08,-2.39],[0.11,-1.92],
[0.19,-1.95],[0.22,-2.22],[0.17,-1.71],[0.23,-2.39],[0.18,-1.84],[0.21,-2.09],[0.16,-1.54],[0.24,-2.58],[0.19,-2.01],[0.22,-1.66],[0.17,-2.31],[0.23,-1.91],[0.18,-1.36],[0.21,-2.15],[0.16,-2.72],[0.24,-1.78],[0.19,-2.45],[0.22,-2.05],[0.17,-1.17],[0.23,-1.98],[0.18,-2.27],[0.21,-1.62],
[0.29,-2.04],[0.32,-1.73],[0.27,-2.29],[0.33,-1.86],[0.28,-2.47],[0.31,-1.59],[0.26,-2.16],[0.34,-2.66],[0.29,-1.42],[0.32,-2.37],[0.27,-1.79],[0.33,-2.09],[0.28,-1.66],[0.31,-2.56],[0.26,-1.97],[0.34,-2.21],[0.29,-1.31],[0.32,-2.83],[0.27,-2.01],[0.33,-1.52],[0.28,-2.42],[0.31,-1.89],
[0.41,-1.94],[0.38,-2.19],[0.43,-1.73],[0.37,-2.36],[0.42,-1.86],[0.39,-2.08],[0.44,-1.52],[0.36,-2.55],[0.41,-2.01],[0.38,-1.67],[0.43,-2.28],[0.37,-1.92],[0.42,-1.34],[0.39,-2.14],[0.44,-2.69],[0.36,-1.79],[0.41,-2.42],[0.38,-2.03],[0.43,-1.59],[0.37,-1.97],
[0.51,-2.01],[0.48,-1.78],[0.53,-2.24],[0.47,-1.89],[0.52,-2.41],[0.49,-1.61],[0.54,-2.11],[0.46,-2.58],[0.51,-1.43],[0.48,-2.31],[0.53,-1.83],[0.47,-2.06],[0.52,-1.69],[0.49,-2.49],[0.54,-1.95],[0.46,-2.17],[0.51,-1.26],[0.48,-2.73],
[0.61,-1.97],[0.58,-2.21],[0.63,-1.74],[0.57,-2.37],[0.62,-1.87],[0.59,-2.09],[0.64,-1.55],[0.56,-2.54],[0.61,-2.03],[0.58,-1.66],[0.63,-2.29],[0.57,-1.92],[0.62,-1.38],[0.59,-2.15],[0.64,-2.66],[0.56,-1.81],
[0.71,-2.02],[0.68,-1.79],[0.73,-2.25],[0.67,-1.91],[0.72,-2.42],[0.69,-1.62],[0.74,-2.12],[0.66,-2.57],[0.71,-1.45],[0.68,-2.33],[0.73,-1.86],[0.67,-2.07],[0.72,-1.71],
[0.81,-1.96],[0.78,-2.19],[0.83,-1.72],[0.77,-2.34],[0.82,-1.85],[0.79,-2.06],[0.84,-1.53],[0.76,-2.49],[0.81,-2.01],[0.78,-1.64],[0.83,-2.27],
[0.91,-2.01],[0.88,-1.78],[0.93,-2.22],[0.87,-1.89],[0.92,-2.39],[0.89,-1.61],[0.94,-2.11],[0.86,-1.46],
[1.01,-1.95],[0.98,-2.17],[1.03,-1.74],[0.97,-2.32],[1.02,-1.86],[0.99,-2.07],
[1.11,-2.03],[1.08,-1.79],[1.13,-2.21],[1.07,-1.91],
[1.21,-1.97],[1.18,-2.14],[1.23,-1.77]
];

const classes = [
  { name: "class 0", color: "#0000ff", points: bluePoints },
  { name: "class 1", color: "#ff0000", points: redPoints },
  { name: "class 2", color: "#00ff00", points: greenPoints }
];

let width = 690;
let height = 552;
let plot = { left: 74, right: 688, top: 37, bottom: 499 };

const fmt = (d) => (d < 0 ? "\u2212" + Math.abs(d) : String(d));

let x = d3.scaleLinear().domain([-3.875, 3.8]).range([plot.left, plot.right]);
let y = d3.scaleLinear().domain([-4.096, 3.967]).range([plot.bottom, plot.top]);

let svg = d3.select("#chart").append("svg")
  .attr("width", width)
  .attr("height", height);

svg.append("defs").append("clipPath")
  .attr("id", "plot_clip")
  .append("rect")
  .attr("x", plot.left)
  .attr("y", plot.top)
  .attr("width", plot.right - plot.left)
  .attr("height", plot.bottom - plot.top);

// scatter
let dots = svg.append("g").attr("clip-path", "url(#plot_clip)");
classes.forEach((c) => {
  dots.append("g")
    .attr("class", "series")
    .selectAll("circle")
    .data(c.points)
    .enter()
    .append("circle")
    .attr("cx", (d) => x(d[0]))
    .attr("cy", (d) => y(d[1]))
    .attr("r", 4.8)
    .attr("fill", c.color)
    .attr("fill-opacity", 0.24)
    .attr("stroke", c.color)
    .attr("stroke-opacity", 0.24)
    .attr("stroke-width", 1.4);
});

// axes
let xAxis = d3.axisBottom(x).tickValues(xTicks).tickFormat(fmt)
  .tickSizeInner(5.5).tickSizeOuter(0).tickPadding(8);
let yAxis = d3.axisLeft(y).tickValues(yTicks).tickFormat(fmt)
  .tickSizeInner(5.5).tickSizeOuter(0).tickPadding(5.5);

let gx = svg.append("g")
  .attr("transform", `translate(0, ${plot.bottom})`)
  .call(xAxis);
let gy = svg.append("g")
  .attr("transform", `translate(${plot.left}, 0)`)
  .call(yAxis);

[gx, gy].forEach((g) => {
  g.select(".domain").remove();
  g.selectAll(".tick line").attr("stroke", "#000").attr("stroke-width", 1.1);
  g.selectAll(".tick text")
    .attr("fill", "#222")
    .style("font-family", "DejaVu Sans, sans-serif")
    .style("font-size", "14.2px");
});

// spines
svg.append("rect")
  .attr("x", plot.left)
  .attr("y", plot.top)
  .attr("width", plot.right - plot.left)
  .attr("height", plot.bottom - plot.top)
  .attr("fill", "none")
  .attr("stroke", "#000")
  .attr("stroke-width", 1.1);

// title
svg.append("text")
  .attr("x", (plot.left + plot.right) / 2)
  .attr("y", 27)
  .attr("text-anchor", "middle")
  .style("font-size", "19.6px")
  .attr("fill", "#222")
  .text(chartTitle);

// axis labels
let xl = svg.append("text")
  .attr("x", (plot.left + plot.right) / 2)
  .attr("y", 545)
  .attr("text-anchor", "middle")
  .style("font-size", "16px")
  .attr("fill", "#222");
xl.append("tspan").text("\u03A8");
xl.append("tspan").attr("dy", 2.5).style("font-size", "11.2px").text("1");

let yl = svg.append("text")
  .attr("transform", `translate(20, ${(plot.top + plot.bottom) / 2}) rotate(-90)`)
  .attr("text-anchor", "middle")
  .style("font-size", "16px")
  .attr("fill", "#222");
yl.append("tspan").text("\u03A8");
yl.append("tspan").attr("dy", 2.5).style("font-size", "11.2px").text("2");
</script>
</body>
</html>
